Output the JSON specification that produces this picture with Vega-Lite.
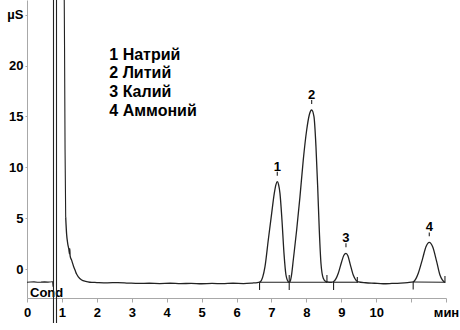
{
  "$schema": "https://vega.github.io/schema/vega-lite/v6.json",
  "autosize": {"type": "none"},
  "width": 419,
  "height": 298,
  "padding": {"left": 27, "top": 0, "right": 14, "bottom": 32},
  "background": "white",
  "view": {"stroke": null},
  "config": {
    "axis": {"labelFont": "Liberation Sans", "labelFontWeight": "bold", "labelColor": "#000", "domainColor": "#a8a8a8", "tickColor": "#a8a8a8", "grid": false, "title": null},
    "text": {"font": "Liberation Sans", "fontWeight": "bold", "color": "#000"}
  },
  "encoding": {
    "x": {"field": "t", "type": "quantitative", "scale": {"domain": [0, 12], "nice": false, "zero": false},
      "axis": {"values": [0,1,2,3,4,5,6,7,8,9,10,11,12], "labelExpr": "datum.value == 12 ? 'мин' : (datum.value == 11 ? '' : datum.label)", "labelFontSize": 13, "tickSize": 4, "labelPadding": 4, "labelFlush": false, "labelOverlap": false}},
    "y": {"field": "v", "type": "quantitative", "scale": {"domain": [-2.85, 26.44], "nice": false, "zero": false},
      "axis": {"values": [0,5,10,15,20,25], "labelExpr": "datum.value == 25 ? 'µS' : datum.label", "labelFontSize": 13, "tickSize": 2, "labelPadding": 2, "labelFlush": false, "labelOverlap": false}}
  },
  "layer": [
    {
      "data": {"values": [{"t": 0.086, "v": -2.31, "txt": "Cond"}]},
      "mark": {"type": "text", "align": "left", "baseline": "middle", "fontSize": 13},
      "encoding": {"text": {"field": "txt"}}
    },
    {
      "data": {"values": [
        {"t": 0.00, "v": -1.30}, {"t": 0.10, "v": -1.28}, {"t": 0.20, "v": -1.27}, {"t": 0.30, "v": -1.30},
        {"t": 0.40, "v": -1.29}, {"t": 0.50, "v": -1.27}, {"t": 0.60, "v": -1.29}, {"t": 0.70, "v": -1.26},
        {"t": 0.735, "v": -1.24}, {"t": 0.745, "v": -1.70}, {"t": 0.7585, "v": -1.75},
        {"t": 0.7589, "v": -5.3}, {"t": 0.7590, "v": 30}, {"t": 0.8448, "v": 30}, {"t": 0.8449, "v": -5.3},
        {"t": 0.8450, "v": 30}, {"t": 1.060, "v": 30}, {"t": 1.075, "v": 22}, {"t": 1.090, "v": 11.7},
        {"t": 1.108, "v": 5.1}
      ]},
      "mark": {"type": "line", "color": "#222", "strokeWidth": 1.1},
      "encoding": {}
    },
    {
      "data": {"values": [
        {"t": 1.108, "v": 5.1}, {"t": 1.135, "v": 3.4}, {"t": 1.166, "v": 2.5}, {"t": 1.200, "v": 1.9},
        {"t": 1.215, "v": 1.5}, {"t": 1.225, "v": 2.0}, {"t": 1.235, "v": 1.3}, {"t": 1.280, "v": 0.85},
        {"t": 1.330, "v": 0.3}, {"t": 1.375, "v": -0.1}, {"t": 1.42, "v": -0.5}, {"t": 1.47, "v": -0.78},
        {"t": 1.566, "v": -1.08}, {"t": 1.68, "v": -1.22}, {"t": 1.80, "v": -1.30}, {"t": 2.0, "v": -1.33},
        {"t": 2.3, "v": -1.36}, {"t": 2.6, "v": -1.33}, {"t": 2.9, "v": -1.38}, {"t": 3.2, "v": -1.42},
        {"t": 3.5, "v": -1.40}, {"t": 3.8, "v": -1.43}, {"t": 4.1, "v": -1.40}, {"t": 4.4, "v": -1.44},
        {"t": 4.7, "v": -1.41}, {"t": 5.0, "v": -1.45}, {"t": 5.3, "v": -1.42}, {"t": 5.6, "v": -1.44},
        {"t": 5.9, "v": -1.40}, {"t": 6.2, "v": -1.43}, {"t": 6.45, "v": -1.38}, {"t": 6.60, "v": -1.33},
        {"t": 6.672, "v": -1.28}, {"t": 6.75, "v": -0.8}, {"t": 6.816, "v": 0.23}, {"t": 6.91, "v": 2.85},
        {"t": 7.007, "v": 5.47}, {"t": 7.082, "v": 7.44}, {"t": 7.13, "v": 8.3}, {"t": 7.168, "v": 8.58},
        {"t": 7.205, "v": 8.3}, {"t": 7.245, "v": 7.44}, {"t": 7.302, "v": 4.82}, {"t": 7.36, "v": 1.54},
        {"t": 7.417, "v": -0.59}, {"t": 7.483, "v": -1.25}, {"t": 7.51, "v": -1.3}, {"t": 7.532, "v": -1.25},
        {"t": 7.58, "v": -0.5}, {"t": 7.626, "v": 0.88}, {"t": 7.723, "v": 3.83}, {"t": 7.818, "v": 7.11},
        {"t": 7.912, "v": 10.71}, {"t": 8.010, "v": 13.66}, {"t": 8.084, "v": 15.14}, {"t": 8.153, "v": 15.63},
        {"t": 8.219, "v": 14.97}, {"t": 8.276, "v": 12.02}, {"t": 8.325, "v": 8.09}, {"t": 8.371, "v": 3.83},
        {"t": 8.419, "v": 0.56}, {"t": 8.485, "v": -0.91}, {"t": 8.562, "v": -1.25}, {"t": 8.65, "v": -1.3},
        {"t": 8.72, "v": -1.3}, {"t": 8.771, "v": -1.27}, {"t": 8.85, "v": -0.95}, {"t": 8.915, "v": -0.42},
        {"t": 9.012, "v": 0.72}, {"t": 9.075, "v": 1.35}, {"t": 9.135, "v": 1.54}, {"t": 9.19, "v": 1.3},
        {"t": 9.25, "v": 0.56}, {"t": 9.344, "v": -0.59}, {"t": 9.42, "v": -1.1}, {"t": 9.487, "v": -1.27},
        {"t": 9.7, "v": -1.35}, {"t": 9.95, "v": -1.4}, {"t": 10.2, "v": -1.45}, {"t": 10.45, "v": -1.42},
        {"t": 10.7, "v": -1.38}, {"t": 10.9, "v": -1.33}, {"t": 11.063, "v": -1.27}, {"t": 11.14, "v": -0.95},
        {"t": 11.206, "v": -0.42}, {"t": 11.332, "v": 1.05}, {"t": 11.426, "v": 2.19}, {"t": 11.521, "v": 2.62},
        {"t": 11.618, "v": 2.19}, {"t": 11.733, "v": 0.72}, {"t": 11.827, "v": -0.59}, {"t": 11.89, "v": -1.05},
        {"t": 11.941, "v": -1.25}, {"t": 11.97, "v": -1.3}
      ]},
      "mark": {"type": "line", "color": "#222", "strokeWidth": 1.3, "interpolate": "monotone"},
      "encoding": {}
    },
    {
      "data": {"values": [
        {"t": 6.66, "v": -1.3, "t2": 8.59, "v2": -1.3},
        {"t": 8.78, "v": -1.3, "t2": 9.46, "v2": -1.3},
        {"t": 11.06, "v": -1.28, "t2": 11.97, "v2": -1.3}
      ]},
      "mark": {"type": "rule", "color": "#222", "strokeWidth": 1.1},
      "encoding": {"x2": {"field": "t2"}, "y2": {"field": "v2"}}
    },
    {
      "data": {"values": [
        {"t": 6.66, "v": -1.25, "v2": -2.06},
        {"t": 7.51, "v": -0.59, "v2": -2.06},
        {"t": 8.59, "v": -0.59, "v2": -1.38},
        {"t": 8.78, "v": -1.28, "v2": -2.06},
        {"t": 9.46, "v": -0.79, "v2": -1.38},
        {"t": 11.06, "v": -1.28, "v2": -2.01},
        {"t": 11.97, "v": -0.69, "v2": -1.38}
      ]},
      "mark": {"type": "rule", "color": "#222", "strokeWidth": 1.1},
      "encoding": {"y2": {"field": "v2"}}
    },
    {
      "data": {"values": [
        {"t": 7.168, "v": 9.17, "v2": 9.56},
        {"t": 8.153, "v": 16.22, "v2": 16.61},
        {"t": 9.135, "v": 2.13, "v2": 2.52},
        {"t": 11.521, "v": 3.21, "v2": 3.6}
      ]},
      "mark": {"type": "rule", "color": "#222", "strokeWidth": 1.1},
      "encoding": {"y2": {"field": "v2"}}
    },
    {
      "data": {"values": [
        {"t": 7.168, "v": 8.58, "txt": "1"},
        {"t": 8.153, "v": 15.63, "txt": "2"},
        {"t": 9.135, "v": 1.54, "txt": "3"},
        {"t": 11.521, "v": 2.62, "txt": "4"}
      ]},
      "mark": {"type": "text", "align": "center", "baseline": "middle", "fontSize": 13, "dy": -15},
      "encoding": {"text": {"field": "txt"}}
    },
    {
      "data": {"values": [
        {"t": 2.357, "v": 21.03, "txt": "1 Натрий"},
        {"t": 2.357, "v": 19.23, "txt": "2 Литий"},
        {"t": 2.357, "v": 17.36, "txt": "3 Калий"},
        {"t": 2.357, "v": 15.5, "txt": "4 Аммоний"}
      ]},
      "mark": {"type": "text", "align": "left", "baseline": "middle", "fontSize": 16},
      "encoding": {"text": {"field": "txt"}}
    }
  ]
}
